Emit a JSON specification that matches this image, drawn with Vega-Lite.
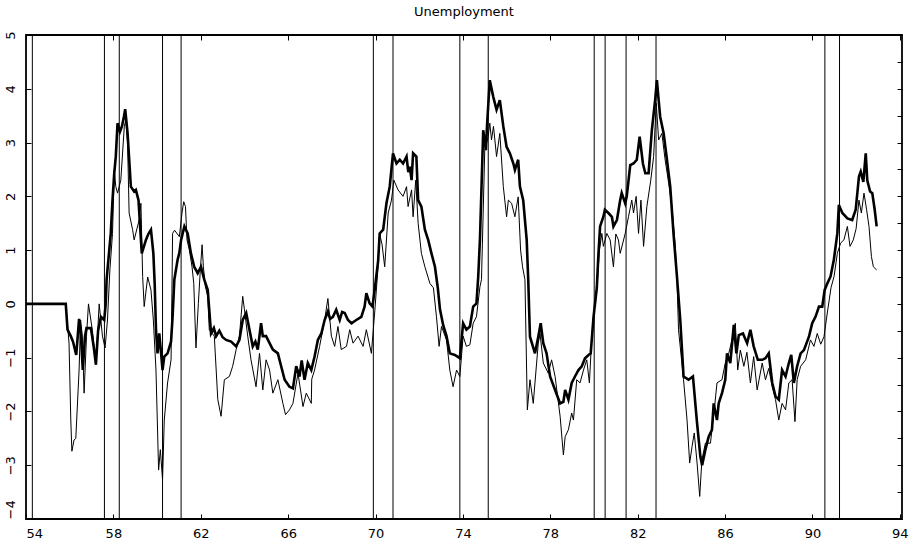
{
  "$schema": "https://vega.github.io/schema/vega-lite/v6.json",
  "autosize": {"type": "none"},
  "width": 876,
  "height": 484,
  "padding": {"left": 26, "top": 35, "right": 15, "bottom": 27},
  "background": "white",
  "title": {
    "text": "Unemployment",
    "font": "DejaVu Sans",
    "fontSize": 13,
    "fontWeight": "normal",
    "color": "black",
    "anchor": "middle",
    "offset": 12
  },
  "config": {
    "view": {"stroke": "black", "strokeWidth": 1.8},
    "axis": {
      "domain": false,
      "grid": false,
      "tickColor": "black",
      "tickWidth": 1,
      "labelFont": "DejaVu Sans",
      "labelFontSize": 13,
      "labelColor": "black",
      "title": null
    }
  },
  "datasets": {
    "recessions": [
      {"t": 54.29}, {"t": 57.59}, {"t": 58.27}, {"t": 60.25}, {"t": 61.1},
      {"t": 69.9}, {"t": 70.8}, {"t": 73.86}, {"t": 75.16}, {"t": 80.01},
      {"t": 80.51}, {"t": 81.47}, {"t": 82.84}, {"t": 90.57}, {"t": 91.24}
    ],
    "thin": [
      {"t":54.0,"v":0},{"t":55.82,"v":0},{"t":55.97,"v":-0.73},{"t":56.05,"v":-2.16},{"t":56.1,"v":-2.74},
      {"t":56.2,"v":-2.53},{"t":56.28,"v":-2.5},{"t":56.43,"v":-1.23},{"t":56.5,"v":-0.3},{"t":56.58,"v":-0.6},
      {"t":56.66,"v":-1.66},{"t":56.77,"v":-0.6},{"t":56.86,"v":0.0},{"t":57.04,"v":-0.5},{"t":57.2,"v":-1.13},
      {"t":57.35,"v":0.0},{"t":57.5,"v":-0.6},{"t":57.62,"v":-0.82},{"t":57.73,"v":-0.3},{"t":57.84,"v":0.63},
      {"t":57.96,"v":1.31},{"t":58.04,"v":2.49},{"t":58.11,"v":2.18},{"t":58.19,"v":2.06},{"t":58.34,"v":2.3},
      {"t":58.5,"v":3.3},{"t":58.57,"v":3.42},{"t":58.65,"v":2.99},{"t":58.72,"v":1.69},{"t":58.88,"v":1.38},
      {"t":58.95,"v":1.19},{"t":59.18,"v":1.56},{"t":59.26,"v":1.87},{"t":59.34,"v":0.51},{"t":59.41,"v":-0.05},
      {"t":59.57,"v":0.5},{"t":59.72,"v":0.26},{"t":59.83,"v":-0.3},{"t":59.95,"v":-1.23},{"t":60.07,"v":-3.09},
      {"t":60.15,"v":-2.71},{"t":60.25,"v":-3.27},{"t":60.33,"v":-2.16},{"t":60.48,"v":-1.47},{"t":60.64,"v":-1.04},
      {"t":60.68,"v":0.2},{"t":60.71,"v":1.31},{"t":60.8,"v":1.37},{"t":61.02,"v":1.25},{"t":61.14,"v":1.69},
      {"t":61.22,"v":1.9},{"t":61.3,"v":1.81},{"t":61.37,"v":1.19},{"t":61.48,"v":1.0},{"t":61.6,"v":0.69},
      {"t":61.68,"v":0.38},{"t":61.78,"v":-0.82},{"t":61.89,"v":0.01},{"t":61.98,"v":0.63},{"t":62.06,"v":1.1},
      {"t":62.12,"v":0.69},{"t":62.21,"v":0.32},{"t":62.32,"v":0.14},{"t":62.39,"v":-0.48},{"t":62.62,"v":-0.6},
      {"t":62.78,"v":-1.78},{"t":62.93,"v":-2.09},{"t":63.08,"v":-1.41},{"t":63.31,"v":-1.35},{"t":63.46,"v":-1.16},
      {"t":63.62,"v":-0.85},{"t":63.77,"v":-0.6},{"t":63.92,"v":0.14},{"t":64.0,"v":-0.11},{"t":64.15,"v":-0.6},
      {"t":64.3,"v":-1.04},{"t":64.53,"v":-1.54},{"t":64.69,"v":-0.92},{"t":64.84,"v":-1.6},{"t":64.99,"v":-1.04},
      {"t":65.15,"v":-1.23},{"t":65.3,"v":-1.66},{"t":65.53,"v":-1.41},{"t":65.76,"v":-1.85},{"t":65.88,"v":-2.06},
      {"t":66.06,"v":-1.97},{"t":66.22,"v":-1.85},{"t":66.45,"v":-1.29},{"t":66.68,"v":-1.91},{"t":66.83,"v":-1.66},
      {"t":67.06,"v":-1.85},{"t":67.08,"v":-1.4},{"t":67.21,"v":-1.23},{"t":67.44,"v":-0.79},{"t":67.67,"v":-0.3},
      {"t":67.82,"v":0.1},{"t":67.98,"v":-0.6},{"t":68.13,"v":-0.79},{"t":68.28,"v":-0.42},{"t":68.43,"v":-0.85},
      {"t":68.67,"v":-0.79},{"t":68.82,"v":-0.48},{"t":68.97,"v":-0.73},{"t":69.2,"v":-0.6},{"t":69.43,"v":-0.79},
      {"t":69.58,"v":-0.48},{"t":69.81,"v":-0.92},{"t":69.96,"v":-0.17},{"t":70.1,"v":0.6},{"t":70.19,"v":1.3},
      {"t":70.3,"v":1.1},{"t":70.42,"v":0.69},{"t":70.58,"v":1.69},{"t":70.73,"v":1.93},{"t":70.84,"v":2.3},
      {"t":71.03,"v":2.12},{"t":71.26,"v":2.0},{"t":71.42,"v":2.18},{"t":71.49,"v":1.81},{"t":71.65,"v":2.12},
      {"t":71.72,"v":1.62},{"t":71.84,"v":2.3},{"t":71.95,"v":1.5},{"t":72.1,"v":0.94},{"t":72.26,"v":0.69},
      {"t":72.49,"v":0.38},{"t":72.65,"v":0.3},{"t":72.79,"v":-0.24},{"t":72.91,"v":-0.79},{"t":73.02,"v":-0.42},
      {"t":73.25,"v":-0.67},{"t":73.4,"v":-1.23},{"t":73.55,"v":-1.54},{"t":73.71,"v":-1.23},{"t":73.86,"v":-1.35},
      {"t":74.01,"v":-0.6},{"t":74.16,"v":-0.79},{"t":74.32,"v":-0.76},{"t":74.47,"v":-0.36},{"t":74.62,"v":-0.24},
      {"t":74.78,"v":0.32},{"t":74.85,"v":0.45},{"t":75.0,"v":2.86},{"t":75.16,"v":3.11},{"t":75.23,"v":3.36},
      {"t":75.31,"v":3.05},{"t":75.4,"v":3.3},{"t":75.54,"v":2.74},{"t":75.69,"v":3.17},{"t":75.85,"v":2.18},
      {"t":76.0,"v":1.62},{"t":76.08,"v":1.93},{"t":76.23,"v":1.87},{"t":76.38,"v":1.62},{"t":76.53,"v":1.99},
      {"t":76.64,"v":1.0},{"t":76.73,"v":0.69},{"t":76.84,"v":0.45},{"t":76.95,"v":-1.97},{"t":77.07,"v":-1.41},
      {"t":77.22,"v":-1.85},{"t":77.45,"v":-0.73},{"t":77.53,"v":-0.55},{"t":77.68,"v":-1.1},{"t":77.91,"v":-1.29},
      {"t":78.06,"v":-1.04},{"t":78.22,"v":-1.35},{"t":78.45,"v":-2.09},{"t":78.6,"v":-2.81},{"t":78.68,"v":-2.47},
      {"t":78.83,"v":-2.34},{"t":78.98,"v":-2.03},{"t":79.06,"v":-2.16},{"t":79.21,"v":-1.41},{"t":79.36,"v":-1.47},
      {"t":79.52,"v":-1.23},{"t":79.67,"v":-1.04},{"t":79.79,"v":-1.47},{"t":79.9,"v":-0.61},{"t":80.01,"v":-0.11},
      {"t":80.13,"v":0.26},{"t":80.25,"v":1.0},{"t":80.36,"v":1.31},{"t":80.43,"v":1.07},{"t":80.59,"v":1.31},
      {"t":80.74,"v":1.19},{"t":80.89,"v":0.69},{"t":81.0,"v":1.3},{"t":81.12,"v":1.19},{"t":81.2,"v":0.94},
      {"t":81.43,"v":1.31},{"t":81.58,"v":1.62},{"t":81.73,"v":1.93},{"t":81.81,"v":1.69},{"t":81.93,"v":2.0},
      {"t":82.04,"v":1.31},{"t":82.15,"v":1.93},{"t":82.27,"v":1.07},{"t":82.42,"v":1.81},{"t":82.6,"v":2.3},
      {"t":82.73,"v":2.74},{"t":82.85,"v":3.73},{"t":82.96,"v":3.05},{"t":83.11,"v":3.17},{"t":83.25,"v":2.7},
      {"t":83.42,"v":2.24},{"t":83.57,"v":1.81},{"t":83.72,"v":1.07},{"t":83.8,"v":0.45},{"t":83.87,"v":-0.48},
      {"t":84.1,"v":-1.41},{"t":84.26,"v":-2.16},{"t":84.38,"v":-2.96},{"t":84.49,"v":-2.65},{"t":84.59,"v":-2.4},
      {"t":84.72,"v":-2.96},{"t":84.84,"v":-3.58},{"t":84.94,"v":-2.9},{"t":85.1,"v":-2.59},{"t":85.33,"v":-2.59},
      {"t":85.5,"v":-2.0},{"t":85.63,"v":-1.47},{"t":85.86,"v":-1.41},{"t":86.01,"v":-1.1},{"t":86.17,"v":-0.92},
      {"t":86.3,"v":-0.7},{"t":86.47,"v":-0.36},{"t":86.58,"v":-1.23},{"t":86.7,"v":-0.86},{"t":86.86,"v":-1.16},
      {"t":87.0,"v":-0.9},{"t":87.16,"v":-1.47},{"t":87.31,"v":-0.98},{"t":87.47,"v":-1.6},{"t":87.7,"v":-1.1},
      {"t":87.85,"v":-1.41},{"t":88.0,"v":-1.2},{"t":88.16,"v":-1.54},{"t":88.31,"v":-1.78},{"t":88.46,"v":-2.16},
      {"t":88.61,"v":-1.85},{"t":88.77,"v":-1.97},{"t":88.92,"v":-1.47},{"t":89.07,"v":-1.41},{"t":89.2,"v":-2.19},
      {"t":89.3,"v":-1.41},{"t":89.46,"v":-1.16},{"t":89.69,"v":-1.04},{"t":89.91,"v":-0.67},{"t":90.07,"v":-0.79},
      {"t":90.22,"v":-0.55},{"t":90.38,"v":-0.75},{"t":90.53,"v":-0.61},{"t":90.68,"v":-0.17},{"t":90.85,"v":0.3},
      {"t":90.99,"v":0.51},{"t":91.14,"v":0.94},{"t":91.29,"v":1.13},{"t":91.44,"v":1.19},{"t":91.6,"v":1.44},
      {"t":91.72,"v":1.07},{"t":91.87,"v":1.19},{"t":92.0,"v":1.4},{"t":92.13,"v":1.93},{"t":92.24,"v":1.69},
      {"t":92.36,"v":2.06},{"t":92.48,"v":1.75},{"t":92.59,"v":1.44},{"t":92.7,"v":0.88},{"t":92.79,"v":0.69},
      {"t":92.94,"v":0.63}
    ],
    "thick": [
      {"t":54.0,"v":0},{"t":55.82,"v":0},{"t":55.9,"v":-0.48},{"t":56.05,"v":-0.6},{"t":56.15,"v":-0.7},
      {"t":56.3,"v":-0.95},{"t":56.43,"v":-0.28},{"t":56.5,"v":-0.5},{"t":56.6,"v":-1.23},{"t":56.7,"v":-0.6},
      {"t":56.77,"v":-0.45},{"t":56.97,"v":-0.45},{"t":57.1,"v":-0.8},{"t":57.2,"v":-1.13},{"t":57.3,"v":-0.5},
      {"t":57.43,"v":-0.24},{"t":57.58,"v":-0.3},{"t":57.65,"v":0.0},{"t":57.69,"v":0.45},{"t":57.88,"v":1.31},
      {"t":57.96,"v":1.93},{"t":58.04,"v":2.43},{"t":58.11,"v":2.74},{"t":58.19,"v":3.36},{"t":58.3,"v":3.2},
      {"t":58.39,"v":3.3},{"t":58.47,"v":3.45},{"t":58.54,"v":3.62},{"t":58.65,"v":3.17},{"t":58.8,"v":2.18},
      {"t":58.95,"v":2.09},{"t":59.03,"v":2.12},{"t":59.15,"v":1.93},{"t":59.3,"v":0.94},{"t":59.49,"v":1.19},
      {"t":59.6,"v":1.3},{"t":59.72,"v":1.38},{"t":59.83,"v":0.94},{"t":59.89,"v":0.38},{"t":59.95,"v":-0.48},
      {"t":60.02,"v":-0.92},{"t":60.1,"v":-0.55},{"t":60.18,"v":-0.9},{"t":60.25,"v":-1.23},{"t":60.33,"v":-0.98},
      {"t":60.48,"v":-0.92},{"t":60.64,"v":-0.7},{"t":60.71,"v":-0.24},{"t":60.79,"v":0.45},{"t":60.94,"v":0.82},
      {"t":61.02,"v":0.95},{"t":61.1,"v":1.19},{"t":61.25,"v":1.44},{"t":61.4,"v":1.31},{"t":61.55,"v":0.94},
      {"t":61.7,"v":0.69},{"t":61.86,"v":0.57},{"t":62.01,"v":0.69},{"t":62.16,"v":0.45},{"t":62.32,"v":0.26},
      {"t":62.47,"v":-0.55},{"t":62.6,"v":-0.45},{"t":62.7,"v":-0.6},{"t":62.85,"v":-0.5},{"t":63.0,"v":-0.62},
      {"t":63.16,"v":-0.67},{"t":63.39,"v":-0.7},{"t":63.62,"v":-0.79},{"t":63.77,"v":-0.67},{"t":63.92,"v":-0.3},
      {"t":64.08,"v":-0.17},{"t":64.23,"v":-0.48},{"t":64.38,"v":-0.79},{"t":64.5,"v":-0.7},{"t":64.61,"v":-0.85},
      {"t":64.76,"v":-0.36},{"t":64.84,"v":-0.6},{"t":64.99,"v":-0.6},{"t":65.15,"v":-0.73},{"t":65.3,"v":-0.85},
      {"t":65.53,"v":-0.92},{"t":65.68,"v":-1.16},{"t":65.84,"v":-1.41},{"t":66.06,"v":-1.54},{"t":66.22,"v":-1.57},
      {"t":66.37,"v":-1.16},{"t":66.52,"v":-1.35},{"t":66.62,"v":-1.05},{"t":66.75,"v":-1.41},{"t":66.9,"v":-1.1},
      {"t":67.06,"v":-1.23},{"t":67.21,"v":-0.98},{"t":67.36,"v":-0.67},{"t":67.52,"v":-0.55},{"t":67.67,"v":-0.3},
      {"t":67.82,"v":-0.14},{"t":67.92,"v":-0.28},{"t":68.05,"v":-0.24},{"t":68.2,"v":-0.11},{"t":68.36,"v":-0.3},
      {"t":68.47,"v":-0.15},{"t":68.59,"v":-0.17},{"t":68.74,"v":-0.3},{"t":68.9,"v":-0.36},{"t":69.12,"v":-0.3},
      {"t":69.35,"v":-0.24},{"t":69.5,"v":-0.05},{"t":69.58,"v":0.2},{"t":69.73,"v":0.01},{"t":69.86,"v":-0.05},
      {"t":69.96,"v":0.26},{"t":70.12,"v":0.8},{"t":70.19,"v":1.31},{"t":70.35,"v":1.38},{"t":70.5,"v":1.87},
      {"t":70.65,"v":2.18},{"t":70.8,"v":2.8},{"t":70.96,"v":2.61},{"t":71.11,"v":2.68},{"t":71.26,"v":2.61},
      {"t":71.42,"v":2.74},{"t":71.5,"v":2.45},{"t":71.57,"v":2.55},{"t":71.65,"v":2.3},{"t":71.72,"v":2.8},
      {"t":71.87,"v":2.74},{"t":71.95,"v":1.93},{"t":72.1,"v":1.81},{"t":72.26,"v":1.38},{"t":72.41,"v":1.19},
      {"t":72.56,"v":0.94},{"t":72.72,"v":0.69},{"t":72.85,"v":0.3},{"t":72.95,"v":-0.1},{"t":73.1,"v":-0.4},
      {"t":73.25,"v":-0.6},{"t":73.4,"v":-0.92},{"t":73.63,"v":-0.95},{"t":73.86,"v":-1.01},{"t":74.01,"v":-0.36},
      {"t":74.16,"v":-0.48},{"t":74.32,"v":-0.42},{"t":74.47,"v":-0.05},{"t":74.62,"v":0.01},{"t":74.7,"v":0.5},
      {"t":74.78,"v":1.2},{"t":74.93,"v":3.23},{"t":75.05,"v":2.86},{"t":75.11,"v":3.36},{"t":75.23,"v":4.16},
      {"t":75.39,"v":3.85},{"t":75.54,"v":3.61},{"t":75.69,"v":3.79},{"t":75.85,"v":3.3},{"t":76.0,"v":2.92},
      {"t":76.15,"v":2.8},{"t":76.31,"v":2.61},{"t":76.38,"v":2.49},{"t":76.53,"v":2.68},{"t":76.61,"v":2.18},
      {"t":76.76,"v":1.93},{"t":76.92,"v":1.19},{"t":76.99,"v":0.45},{"t":77.07,"v":-0.61},{"t":77.3,"v":-0.92},
      {"t":77.45,"v":-0.61},{"t":77.56,"v":-0.36},{"t":77.68,"v":-0.73},{"t":77.83,"v":-0.92},{"t":77.99,"v":-1.35},
      {"t":78.22,"v":-1.6},{"t":78.45,"v":-1.85},{"t":78.6,"v":-1.82},{"t":78.68,"v":-1.6},{"t":78.83,"v":-1.78},
      {"t":78.98,"v":-1.47},{"t":79.13,"v":-1.35},{"t":79.29,"v":-1.23},{"t":79.44,"v":-1.16},{"t":79.59,"v":-1.01},
      {"t":79.75,"v":-0.95},{"t":79.85,"v":-0.92},{"t":79.98,"v":-0.24},{"t":80.13,"v":0.3},{"t":80.2,"v":0.9},
      {"t":80.28,"v":1.44},{"t":80.43,"v":1.62},{"t":80.5,"v":1.75},{"t":80.66,"v":1.69},{"t":80.82,"v":1.62},
      {"t":80.89,"v":1.44},{"t":81.05,"v":1.56},{"t":81.2,"v":1.93},{"t":81.27,"v":2.06},{"t":81.43,"v":1.87},
      {"t":81.5,"v":2.0},{"t":81.66,"v":2.58},{"t":81.81,"v":2.61},{"t":81.96,"v":2.68},{"t":82.09,"v":3.11},
      {"t":82.24,"v":2.61},{"t":82.35,"v":2.43},{"t":82.5,"v":2.43},{"t":82.65,"v":3.23},{"t":82.8,"v":3.79},
      {"t":82.88,"v":4.16},{"t":82.96,"v":3.79},{"t":83.03,"v":3.48},{"t":83.19,"v":3.17},{"t":83.34,"v":2.68},
      {"t":83.49,"v":2.18},{"t":83.64,"v":1.31},{"t":83.8,"v":0.5},{"t":83.95,"v":-0.3},{"t":84.1,"v":-1.35},
      {"t":84.33,"v":-1.41},{"t":84.53,"v":-1.35},{"t":84.72,"v":-2.22},{"t":84.87,"v":-2.84},{"t":84.95,"v":-3.0},
      {"t":85.1,"v":-2.71},{"t":85.25,"v":-2.47},{"t":85.4,"v":-2.34},{"t":85.48,"v":-1.85},{"t":85.63,"v":-2.16},
      {"t":85.71,"v":-1.85},{"t":85.86,"v":-1.66},{"t":86.01,"v":-1.41},{"t":86.09,"v":-0.92},{"t":86.24,"v":-1.1},
      {"t":86.4,"v":-0.39},{"t":86.52,"v":-0.92},{"t":86.63,"v":-0.58},{"t":86.82,"v":-0.55},{"t":87.01,"v":-0.73},
      {"t":87.16,"v":-0.48},{"t":87.31,"v":-0.79},{"t":87.5,"v":-1.04},{"t":87.7,"v":-1.04},{"t":87.85,"v":-1.01},
      {"t":88.0,"v":-0.92},{"t":88.16,"v":-1.47},{"t":88.31,"v":-1.72},{"t":88.46,"v":-1.78},{"t":88.61,"v":-1.23},
      {"t":88.77,"v":-1.35},{"t":88.92,"v":-1.1},{"t":89.03,"v":-0.95},{"t":89.15,"v":-1.47},{"t":89.3,"v":-1.16},
      {"t":89.46,"v":-0.92},{"t":89.61,"v":-0.86},{"t":89.84,"v":-0.61},{"t":89.99,"v":-0.36},{"t":90.14,"v":-0.24},
      {"t":90.3,"v":-0.05},{"t":90.45,"v":-0.05},{"t":90.56,"v":0.26},{"t":90.68,"v":0.38},{"t":90.83,"v":0.51},
      {"t":90.98,"v":0.82},{"t":91.14,"v":1.31},{"t":91.21,"v":1.84},{"t":91.37,"v":1.69},{"t":91.6,"v":1.59},
      {"t":91.82,"v":1.56},{"t":91.98,"v":1.75},{"t":92.13,"v":2.37},{"t":92.21,"v":2.46},{"t":92.33,"v":2.27},
      {"t":92.44,"v":2.8},{"t":92.51,"v":2.3},{"t":92.64,"v":2.09},{"t":92.74,"v":2.06},{"t":92.85,"v":1.75},
      {"t":92.94,"v":1.44}
    ]
  },
  "layer": [
    {
      "data": {"name": "recessions"},
      "mark": {"type": "rule", "color": "black", "strokeWidth": 1},
      "encoding": {
        "x": {"field": "t", "type": "quantitative", "scale": {"domain": [54, 94.1], "nice": false, "zero": false}, "axis": null}
      }
    },
    {
      "data": {"name": "thin"},
      "mark": {"type": "line", "color": "black", "strokeWidth": 1, "clip": true},
      "encoding": {
        "x": {
          "field": "t", "type": "quantitative",
          "axis": {"orient": "top", "values": [54, 58, 62, 66, 70, 74, 78, 82, 86, 90, 94], "labels": false, "tickSize": -5}
        },
        "y": {
          "field": "v", "type": "quantitative",
          "axis": {"orient": "right", "values": [-4, -3.5, -3, -2.5, -2, -1.5, -1, -0.5, 0, 0.5, 1, 1.5, 2, 2.5, 3, 3.5, 4, 4.5, 5], "labels": false, "tickSize": -5}
        }
      }
    },
    {
      "data": {"name": "thick"},
      "mark": {"type": "line", "color": "black", "strokeWidth": 2.6, "clip": true},
      "encoding": {
        "x": {
          "field": "t", "type": "quantitative",
          "axis": {"orient": "bottom", "values": [54, 58, 62, 66, 70, 74, 78, 82, 86, 90, 94], "tickSize": -5, "labelPadding": 13, "format": "d"}
        },
        "y": {
          "field": "v", "type": "quantitative",
          "scale": {"domain": [-4, 5], "nice": false, "zero": false},
          "axis": {
            "orient": "left",
            "values": [-4, -3.5, -3, -2.5, -2, -1.5, -1, -0.5, 0, 0.5, 1, 1.5, 2, 2.5, 3, 3.5, 4, 4.5, 5],
            "tickSize": -5,
            "labelPadding": 14,
            "labelAngle": -90,
            "labelAlign": {"condition": {"test": "datum.value === -4", "value": "left"}, "value": "center"},
            "labelBaseline": "bottom",
            "labelExpr": "datum.value % 1 === 0 ? datum.label : ''",
            "format": "d"
          }
        }
      }
    }
  ],
  "resolve": {"axis": {"x": "independent", "y": "independent"}}
}
